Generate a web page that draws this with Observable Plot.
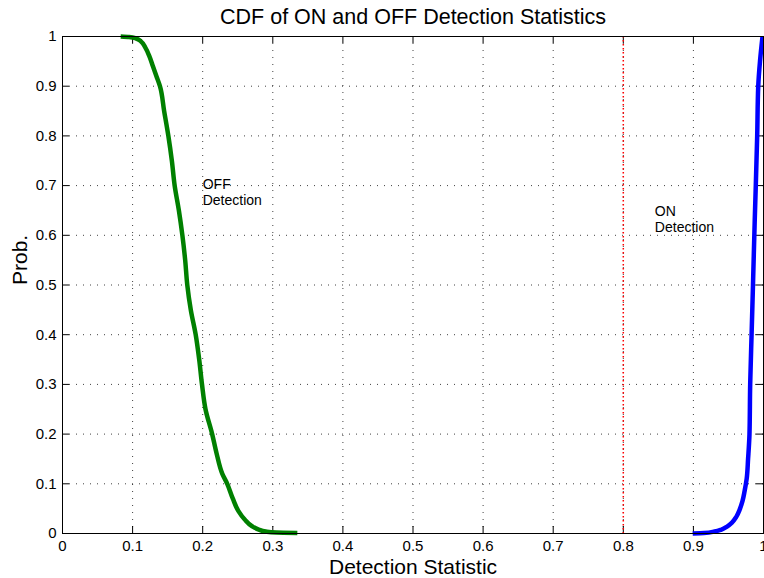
<!DOCTYPE html>
<html>
<head>
<meta charset="utf-8">
<script src="https://cdn.jsdelivr.net/npm/d3@7"></script>
<script src="https://cdn.jsdelivr.net/npm/@observablehq/plot@0.6"></script>
<style>
  html, body { margin: 0; padding: 0; background: #fff; }
  #chart svg { display: block; }
</style>
</head>
<body>
<div id="chart"></div>
<script>
// Tick values
const ticks = [0, 0.1, 0.2, 0.3, 0.4, 0.5, 0.6, 0.7, 0.8, 0.9, 1];

// OFF detection statistic curve (green)
const offX = [0.083, 0.095, 0.105, 0.112, 0.118, 0.124, 0.129, 0.134, 0.139, 0.145, 0.151, 0.156, 0.160, 0.166, 0.171, 0.175, 0.178, 0.183, 0.190, 0.195, 0.199, 0.204, 0.2135, 0.220, 0.228, 0.235, 0.243, 0.251, 0.260, 0.270, 0.280, 0.290, 0.305, 0.335];
const offP = [1.000, 0.999, 0.996, 0.990, 0.978, 0.960, 0.940, 0.920, 0.900, 0.850, 0.800, 0.750, 0.700, 0.650, 0.600, 0.550, 0.500, 0.450, 0.400, 0.350, 0.300, 0.250, 0.200, 0.160, 0.120, 0.100, 0.070, 0.045, 0.028, 0.015, 0.008, 0.004, 0.002, 0.001];

// ON detection statistic curve (blue)
const onX = [0.899, 0.915, 0.930, 0.940, 0.948, 0.955, 0.961, 0.966, 0.970, 0.973, 0.976, 0.978, 0.980, 0.981, 0.983, 0.985, 0.9875, 0.989, 0.991, 0.9925, 0.995, 0.9986];
const onP = [0.000, 0.001, 0.004, 0.008, 0.014, 0.022, 0.033, 0.048, 0.065, 0.085, 0.110, 0.150, 0.200, 0.300, 0.400, 0.500, 0.630, 0.700, 0.800, 0.900, 0.950, 1.000];

// Threshold
const threshold = [0.8];

// Annotations
const labelX = [0.2, 0.845];
const labelY = [0.688, 0.634];
const labelText = ["OFF\nDetection", "ON\nDetection"];

const title = "CDF of ON and OFF Detection Statistics";
const xLabel = "Detection Statistic";
const yLabel = "Prob.";

const off = offX.map((x, i) => ({x, p: offP[i]}));
const on = onX.map((x, i) => ({x, p: onP[i]}));
const labels = labelX.map((x, i) => ({x, p: labelY[i], text: labelText[i]}));

const W = 764, H = 578;
const mL = 62, mR = 1, mT = 36, mB = 45;
const fw = W - mL - mR, fh = H - mT - mB;
const tl = 7;

const chart = Plot.plot({
  width: W,
  height: H,
  marginLeft: mL, marginRight: mR, marginTop: mT, marginBottom: mB,
  style: {fontFamily: "'Liberation Sans', Arial, Helvetica, sans-serif", fontSize: "15px", background: "#fff", color: "#000", overflow: "visible"},
  x: {domain: [0, 1], ticks: ticks, tickSize: 0, tickPadding: 7, label: null, tickFormat: d => String(d)},
  y: {domain: [0, 1], ticks: ticks, tickSize: 0, tickPadding: 6, label: null, tickFormat: d => String(d)},
  marks: [
    // grid
    Plot.ruleX(ticks.slice(1, -1), {x: d => d, stroke: "#000", strokeOpacity: 0.75, strokeDasharray: "1,6"}),
    Plot.ruleY(ticks.slice(1, -1), {y: d => d, stroke: "#000", strokeOpacity: 0.75, strokeDasharray: "1,6"}),
    // inside ticks
    Plot.tickX(ticks, {x: d => d, insetTop: fh - tl, stroke: "#000"}),
    Plot.tickX(ticks, {x: d => d, insetBottom: fh - tl, stroke: "#000"}),
    Plot.tickY(ticks, {y: d => d, insetRight: fw - tl, stroke: "#000"}),
    Plot.tickY(ticks, {y: d => d, insetLeft: fw - tl, stroke: "#000"}),
    // threshold
    Plot.ruleX(threshold, {x: d => d, stroke: "#ff0000", strokeDasharray: "1.5,2.5", strokeWidth: 1.5}),
    // curves
    Plot.line(off, {x: "x", y: "p", stroke: "#008000", strokeWidth: 4.5, strokeLinejoin: "round", strokeLinecap: "butt", curve: "monotone-y"}),
    Plot.line(on, {x: "x", y: "p", stroke: "#0000ff", strokeWidth: 4.5, strokeLinejoin: "round", strokeLinecap: "butt", curve: "monotone-y"}),
    // frame
    Plot.frame({stroke: "#000", strokeWidth: 1}),
    // annotations
    Plot.text(labels, {x: "x", y: "p", text: "text", textAnchor: "start", fontSize: 14, lineHeight: 1.15, fill: "#000"}),
    // title & axis labels
    Plot.text([title], {text: d => d, frameAnchor: "top", lineAnchor: "middle", dy: -19, fontSize: 21.5, fill: "#000"}),
    Plot.text([xLabel], {text: d => d, frameAnchor: "bottom", lineAnchor: "middle", dy: 34, fontSize: 21, fill: "#000"}),
    Plot.text([yLabel], {text: d => d, frameAnchor: "left", lineAnchor: "middle", dx: -42, rotate: -90, fontSize: 21, fill: "#000"})
  ]
});
document.getElementById("chart").appendChild(chart);
</script>
</body>
</html>
